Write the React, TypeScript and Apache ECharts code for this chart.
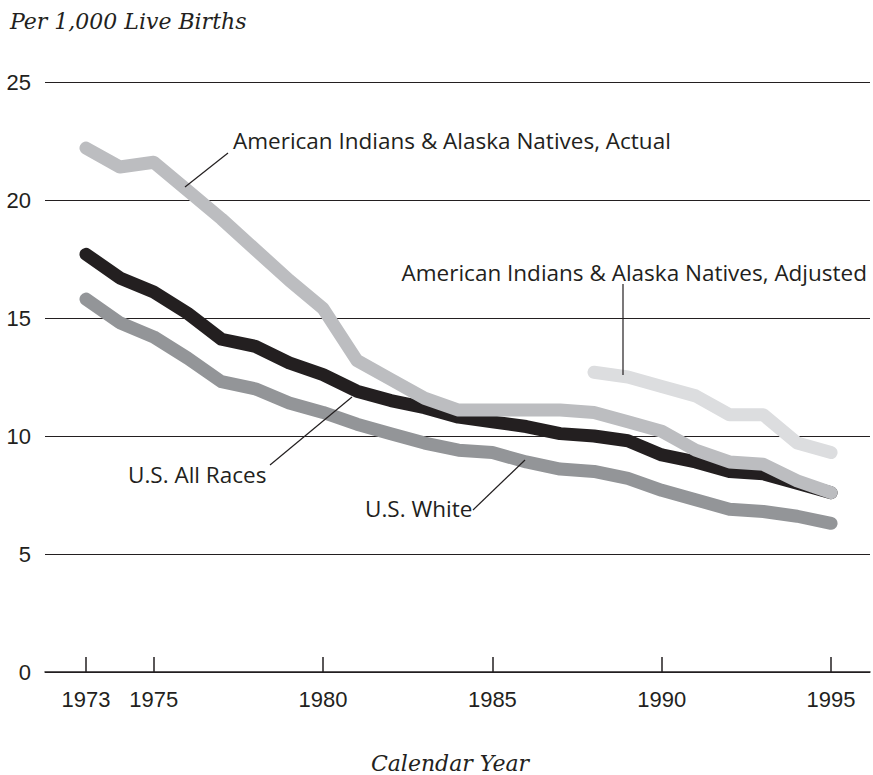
import React, { useEffect, useRef } from "react";
import * as echarts from "echarts";

const years = [1973, 1974, 1975, 1976, 1977, 1978, 1979, 1980, 1981, 1982, 1983, 1984, 1985, 1986, 1987, 1988, 1989, 1990, 1991, 1992, 1993, 1994, 1995];
const aiActual = [22.2, 21.4, 21.6, 20.4, 19.2, 17.9, 16.6, 15.4, 13.2, 12.4, 11.6, 11.1, 11.1, 11.1, 11.1, 11.0, 10.6, 10.2, 9.4, 8.9, 8.8, 8.1, 7.6];
const usAllRaces = [17.7, 16.7, 16.1, 15.2, 14.1, 13.8, 13.1, 12.6, 11.9, 11.5, 11.2, 10.8, 10.6, 10.4, 10.1, 10.0, 9.8, 9.2, 8.9, 8.5, 8.4, 8.0, 7.6];
const usWhite = [15.8, 14.8, 14.2, 13.3, 12.3, 12.0, 11.4, 11.0, 10.5, 10.1, 9.7, 9.4, 9.3, 8.9, 8.6, 8.5, 8.2, 7.7, 7.3, 6.9, 6.8, 6.6, 6.3];
const adjYears = [1988, 1989, 1990, 1991, 1992, 1993, 1994, 1995];
const aiAdjusted = [12.7, 12.5, 12.1, 11.7, 10.9, 10.9, 9.7, 9.3];
const xTicks = [1973, 1975, 1980, 1985, 1990, 1995];

const pair = (xs: number[], ys: number[]) => xs.map((x, i) => [x, ys[i]]);

const INK = "#231f20";
const SANS = "'Open Sans', 'Liberation Sans', sans-serif";
const NUM = "'Liberation Sans', Arial, sans-serif";
const SERIF = "'DejaVu Serif', serif";

export default function App() {
  const ref = useRef<HTMLDivElement>(null);
  useEffect(() => {
    if (!ref.current) return;
    const chart = echarts.init(ref.current, null, { renderer: "svg" });
    const lineStyle = (color: string) => ({ color, width: 13, cap: "round", join: "round" });
    const mkSeries = (name: string, data: number[][], color: string, z: number) => ({
      name,
      type: "line",
      data,
      showSymbol: false,
      symbol: "none",
      lineStyle: lineStyle(color),
      z,
      silent: true,
    });
    const annText = (text: string, x: number, y: number, align = "left") => ({
      type: "text",
      x,
      y,
      style: { text, fill: INK, font: `22.5px ${SANS}`, align, verticalAlign: "middle" },
      z: 100,
    });
    const lead = (x1: number, y1: number, x2: number, y2: number) => ({
      type: "line",
      shape: { x1, y1, x2, y2 },
      style: { stroke: INK, lineWidth: 1.2 },
      z: 100,
    });
    chart.setOption({
      animation: false,
      backgroundColor: "#ffffff",
      grid: { left: 45, right: 3, top: 82, bottom: 103, containLabel: false },
      xAxis: {
        type: "value",
        min: 1971.79,
        max: 1996.15,
        splitLine: { show: false },
        axisLine: { show: true, lineStyle: { color: INK, width: 1.5 } },
        axisTick: { show: true, inside: true, length: 15, customValues: xTicks, lineStyle: { color: INK, width: 1.5 } },
        axisLabel: { customValues: xTicks, color: INK, fontFamily: NUM, fontSize: 22, margin: 16, formatter: (v: number) => String(v) },
      },
      yAxis: {
        type: "value",
        min: 0,
        max: 25,
        interval: 5,
        axisLine: { show: false },
        axisTick: { show: false },
        splitLine: { show: true, lineStyle: { color: INK, width: 1.2 } },
        axisLabel: { color: INK, fontFamily: NUM, fontSize: 22, margin: 14 },
      },
      series: [
        mkSeries("U.S. White", pair(years, usWhite), "#939598", 2),
        mkSeries("U.S. All Races", pair(years, usAllRaces), INK, 3),
        mkSeries("American Indians & Alaska Natives, Actual", pair(years, aiActual), "#bcbdc0", 4),
        mkSeries("American Indians & Alaska Natives, Adjusted", pair(adjYears, aiAdjusted), "#dcdddf", 5),
      ],
      graphic: [
        { type: "text", x: 10, y: 21, style: { text: "Per 1,000 Live Births", fill: INK, font: `italic 22px ${SERIF}`, verticalAlign: "middle" } },
        { type: "text", x: 450, y: 763, style: { text: "Calendar Year", fill: INK, font: `italic 22px ${SERIF}`, align: "center", verticalAlign: "middle" } },
        annText("American Indians & Alaska Natives, Actual", 233, 140),
        lead(228, 153, 185, 187),
        annText("American Indians & Alaska Natives, Adjusted", 867, 272, "right"),
        lead(623, 284, 623, 375),
        annText("U.S. All Races", 128, 474),
        lead(270, 465, 352, 397),
        annText("U.S. White", 365, 508),
        lead(473, 510, 525, 460),
      ],
    });
    return () => chart.dispose();
  }, []);
  return <div ref={ref} style={{ width: 873, height: 775, position: "fixed", left: 0, top: 0 }} />;
}
